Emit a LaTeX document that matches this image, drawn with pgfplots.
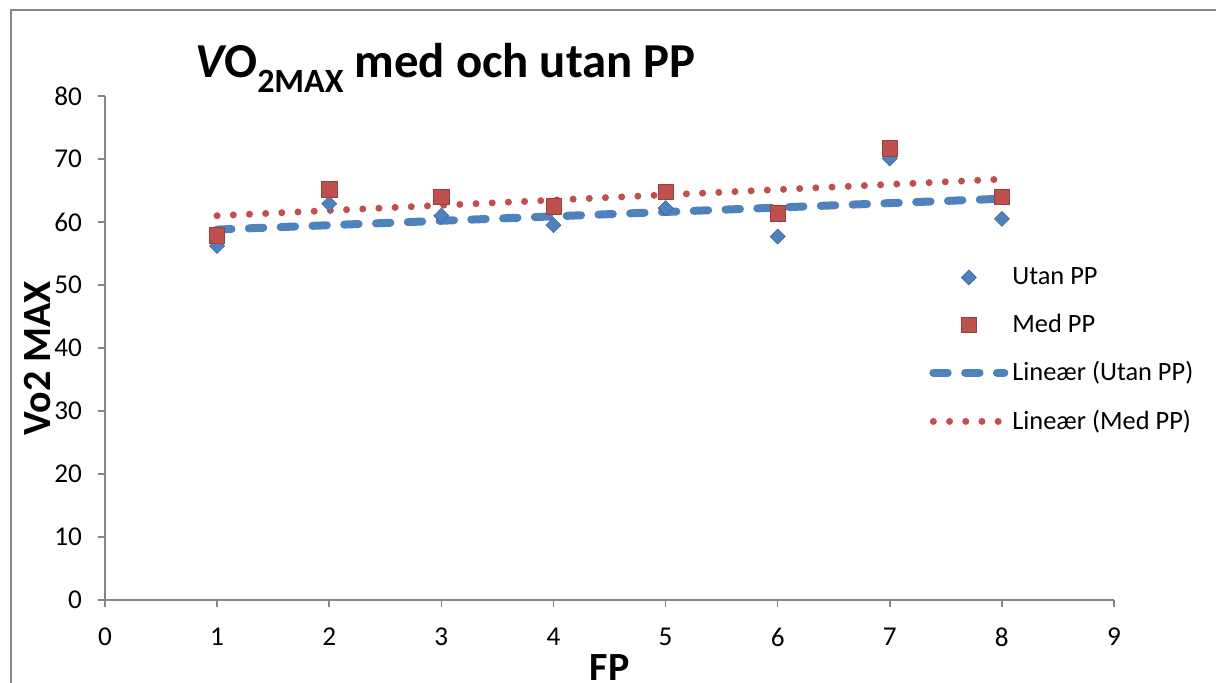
\documentclass[border=0pt]{standalone}
\usepackage{fontspec}
\setmainfont{Carlito}
\usepackage{pgfplots}
\pgfplotsset{compat=1.18}
\definecolor{xlblue}{HTML}{4F81BD}
\definecolor{xlred}{HTML}{C0504D}
\definecolor{axisgray}{HTML}{868686}
\pgfplotsset{
  markleg/.style={legend image code/.code={\draw[##1] plot coordinates {(17.75pt,0pt)};}},
  lineleg/.style={legend image code/.code={\draw[##1] (0pt,0pt) -- (35.5pt,0pt);}},
}
\begin{document}
\begin{tikzpicture}
\useasboundingbox (0,0) rectangle (608pt,-341pt);
\draw[axisgray, line width=0.8pt] (5.5pt,-345pt) -- (5.5pt,-5pt) -- (620pt,-5pt);
\begin{axis}[
  at={(52.5pt,-300pt)}, anchor=south west,
  width=504.5pt, height=252pt, scale only axis,
  xmin=0, xmax=9, ymin=0, ymax=80,
  xtick={0,1,...,9}, ytick={0,10,...,80},
  axis lines*=left,
  axis line style={draw=axisgray, line width=0.8pt, -},
  tick style={draw=axisgray, line width=0.8pt},
  tick align=outside, major tick length=3.5pt,
  /pgf/number format/assume math mode=true,
  ticklabel style={font=\fontsize{13.6}{16}\selectfont},
  xticklabel style={yshift=-7pt},
  yticklabel style={xshift=-4.5pt},
  clip=false,
  xlabel={FP}, ylabel={Vo2 MAX},
  xlabel style={font=\fontsize{20}{24}\selectfont\bfseries, at={(axis description cs:0.5,0)}, anchor=center, yshift=-34pt},
  ylabel style={font=\fontsize{20}{24}\selectfont\bfseries, at={(axis description cs:-0.0665,0.48)}, anchor=center},
  legend style={at={(axis description cs:0.8166,0.6685)}, anchor=north west, draw=none, fill=none,
    font=\fontsize{13.2}{16}\selectfont, row sep=9.2pt, inner sep=0pt,
    /tikz/every even column/.style={column sep=0pt}},
  legend cell align=left,
]
\addplot[only marks, mark=square*, mark size=2.65pt, mark options={rotate=45, fill=xlblue, draw=xlblue!80!black, line width=0.3pt}, markleg]
  coordinates {(1,56.2) (2,62.9) (3,61.0) (4,59.5) (5,62.2) (6,57.7) (7,70.1) (8,60.5)};
\addlegendentry{Utan PP}
\addplot[only marks, mark=square*, mark size=3.8pt, mark options={fill=xlred, draw=xlred!80!black, line width=0.3pt}, markleg]
  coordinates {(1,57.9) (2,65.2) (3,64.0) (4,62.5) (5,64.8) (6,61.4) (7,71.7) (8,64.0)};
\addlegendentry{Med PP}
\addplot[xlblue, line width=4pt, line cap=round, dash pattern=on 7.2pt off 8.7pt, mark=none, lineleg]
  coordinates {(1,58.8) (8,63.7)};
\addlegendentry{Lineær (Utan PP)}
\addplot[xlred, line width=3.5pt, line cap=round, dash pattern=on 0pt off 8.1pt, mark=none, lineleg]
  coordinates {(1,61.0) (8,66.8)};
\addlegendentry{Lineær (Med PP)}
\end{axis}
\node[anchor=base west, inner sep=0pt] at (97.5pt,-38.5pt)
  {\fontsize{24.4}{28}\selectfont\bfseries{\itshape V}O\raisebox{-7.5pt}{\fontsize{17}{20}\selectfont 2MAX} med och utan PP};
\end{tikzpicture}
\end{document}
